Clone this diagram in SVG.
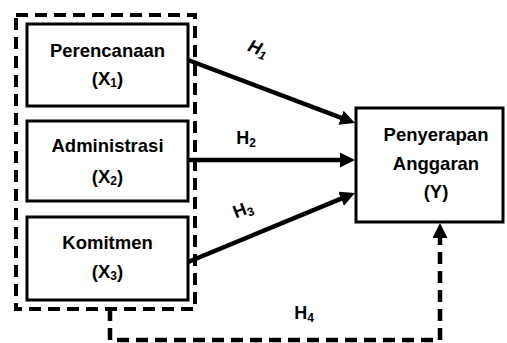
<svg xmlns="http://www.w3.org/2000/svg" width="507" height="343" viewBox="0 0 507 343">
<style>
.box{fill:#fff;stroke:#000;stroke-width:3}
.grp{fill:none;stroke:#000;stroke-width:4;stroke-dasharray:12 7}
.t{font-family:"Liberation Sans",Arial,sans-serif;font-weight:bold;font-size:18.5px;fill:#000;text-anchor:middle}
.h{font-family:"Liberation Sans",Arial,sans-serif;font-weight:bold;font-size:18px;fill:#000;text-anchor:middle}
.sub{font-size:12px}
.arr{fill:none;stroke:#000;stroke-width:4.5;marker-end:url(#ah)}
.dash{fill:none;stroke:#000;stroke-width:4.5;stroke-dasharray:12 7;marker-end:url(#ah)}
</style>
<defs>
<marker id="ah" markerUnits="userSpaceOnUse" markerWidth="16" markerHeight="16" refX="4" refY="7.5" orient="auto">
<path d="M0,0 L15,7.5 L0,15 z" fill="#000"/>
</marker>
</defs>
<rect class="grp" x="16" y="15" width="179" height="294"/>
<g id="x1">
<rect class="box" x="27" y="24" width="161" height="82"/>
<text class="t" x="107.5" y="57">Perencanaan</text>
<text class="t" x="107.5" y="85">(X<tspan class="sub" dy="2">1</tspan><tspan dy="-2">)</tspan></text>
</g>
<g id="x2">
<rect class="box" x="27" y="121" width="161" height="80"/>
<text class="t" x="107.5" y="152">Administrasi</text>
<text class="t" x="107.5" y="183">(X<tspan class="sub" dy="2">2</tspan><tspan dy="-2">)</tspan></text>
</g>
<g id="x3">
<rect class="box" x="27" y="217" width="161" height="83"/>
<text class="t" x="107.5" y="249">Komitmen</text>
<text class="t" x="107.5" y="278">(X<tspan class="sub" dy="2">3</tspan><tspan dy="-2">)</tspan></text>
</g>
<g id="y">
<rect class="box" x="356" y="108" width="147" height="114"/>
<text class="t" x="436" y="141">Penyerapan</text>
<text class="t" x="436" y="170">Anggaran</text>
<text class="t" x="436" y="198">(Y)</text>
</g>
<g id="connectors">
<line class="arr" x1="188" y1="60" x2="344.7" y2="119.1"/>
<line class="arr" x1="188" y1="160" x2="344" y2="160"/>
<line class="arr" x1="188" y1="262" x2="344.8" y2="197.2"/>
<polyline class="dash" points="110,309 110,340 440,340 440,234"/>
<text class="h" font-style="italic" transform="translate(256,54) rotate(21)">H<tspan class="sub" dy="3">1</tspan></text>
<text class="h" x="246" y="144">H<tspan class="sub" dy="3">2</tspan></text>
<text class="h" transform="translate(245,215) rotate(-21)">H<tspan class="sub" dy="3">3</tspan></text>
<text class="h" x="304" y="319">H<tspan class="sub" dy="3">4</tspan></text>
</g>
</svg>
